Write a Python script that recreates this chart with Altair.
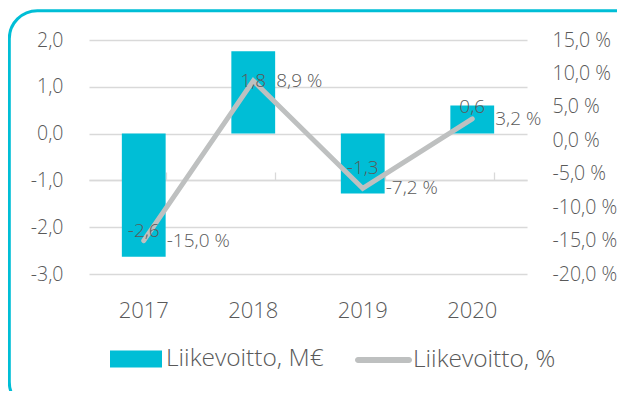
import altair as alt
import pandas as pd

# ---- data ----
years = ["2017", "2018", "2019", "2020"]
ebit_meur = [-2.63, 1.76, -1.28, 0.60]
ebit_pct = [-15.0, 8.9, -7.2, 3.2]
bar_series = "Liikevoitto, M€"
line_series = "Liikevoitto, %"
left_ticks = [-3, -2, -1, 0, 1, 2]
right_ticks = [-20, -15, -10, -5, 0, 5, 10, 15]

df = pd.DataFrame({"year": years, "meur": ebit_meur, "pct": ebit_pct,
                   "s1": bar_series, "s2": line_series})

FONT = "Open Sans"
TXT = "#595959"
CYAN = "#00BED6"
GRAY = "#BEC0C0"
GRID = "#D9D9D9"


def fmt(expr):
    return f"replace(replace(format({expr}, '.1f'), '.', ','), '\u2212', '-')"


xscale = alt.Scale(domain=years, paddingInner=0.6, paddingOuter=0.3)
yl = alt.Scale(domain=[-3, 2], nice=False, zero=False)
yr = alt.Scale(domain=[-20, 15], nice=False, zero=False)

base = alt.Chart(df).transform_calculate(
    mlab=fmt("datum.meur"), plab=fmt("datum.pct") + " + ' %'"
)

RECT_PATH = "M-1,-0.327H1V0.327H-1Z"
PILL_PATH = ("M-0.895,-0.105H0.895A0.105,0.105 0 0 1 0.895,0.105"
             "H-0.895A0.105,0.105 0 0 1 -0.895,-0.105Z")

AXIS_FS = 19.5
LEG_FS = 24.5
DATA_FS = 19

bars = base.mark_bar().encode(
    x=alt.X("year:N", scale=xscale, axis=alt.Axis(
        title=None, labelFont=FONT, labelFontSize=22, labelFontWeight=300,
        labelColor=TXT, domain=False, ticks=False, tickSize=0, labelPadding=26,
        labelAngle=0, grid=False)),
    y=alt.Y("meur:Q", scale=yl, axis=alt.Axis(
        title=None, orient="left", values=left_ticks, labelExpr=fmt("datum.value"),
        grid=True, gridColor=GRID, gridWidth=1.3, domain=False, ticks=False,
        tickSize=0, labelPadding=26, labelFont=FONT, labelFontSize=AXIS_FS,
        labelFontWeight=300, labelColor=TXT)),
    fill=alt.Fill("s1:N", scale=alt.Scale(range=[CYAN]), legend=alt.Legend(
        title=None, orient="none", legendX=21, legendY=293, symbolType=RECT_PATH,
        symbolSize=2704, symbolStrokeWidth=0, labelFont=FONT, labelFontSize=LEG_FS,
        labelFontWeight=300, labelColor=TXT, labelOffset=4, labelLimit=400)),
)

line = base.mark_line(strokeWidth=5, strokeCap="round").encode(
    x=alt.X("year:N", scale=xscale, axis=alt.Axis(
        title=None, labels=False, domain=True, domainColor=GRID, domainWidth=1.3,
        ticks=True, tickBand="extent", tickColor=GRID, tickWidth=1.3, tickSize=8,
        offset=-140, grid=False)),
    y=alt.Y("pct:Q", scale=yr, axis=alt.Axis(
        title=None, orient="right", values=right_ticks,
        labelExpr=fmt("datum.value") + " + ' %'", grid=False, domain=False,
        ticks=False, tickSize=0, labelPadding=25, labelFont=FONT, labelFontSize=AXIS_FS,
        labelFontWeight=300, labelColor=TXT)),
    stroke=alt.Stroke("s2:N", scale=alt.Scale(range=[GRAY]), legend=alt.Legend(
        title=None, orient="none", legendX=266, legendY=291.5, symbolType=PILL_PATH,
        symbolSize=3249, symbolStrokeWidth=0, symbolFillColor=GRAY,
        labelFont=FONT, labelFontSize=LEG_FS,
        labelFontWeight=300, labelColor=TXT, labelOffset=1, labelLimit=400)),
)


def bar_labels(cond, dy):
    return base.transform_filter(cond).mark_text(
        font=FONT, fontSize=DATA_FS, fontWeight=300, color=TXT, baseline="middle",
        align="center", dy=dy
    ).encode(
        x=alt.X("year:N", scale=xscale, axis=None),
        y=alt.Y("meur:Q", scale=yl, axis=None),
        text="mlab:N",
    )


lab_neg = bar_labels("datum.meur < 0", -26)
lab_pos = bar_labels("datum.meur > 1", 30)
lab_small = bar_labels("datum.meur > 0 && datum.meur <= 1", 1)

line_labels = base.mark_text(
    font=FONT, fontSize=DATA_FS, fontWeight=300, color=TXT, baseline="middle",
    align="left", dx=23
).encode(
    x=alt.X("year:N", scale=xscale, axis=None),
    y=alt.Y("pct:Q", scale=yr, axis=None),
    text="plab:N",
)

frame = alt.Chart(alt.Data(values=[{"a": 1}])).mark_rect(
    filled=False, stroke=CYAN, strokeWidth=3, cornerRadius=28
).encode(
    x=alt.value(-79.7), x2=alt.value(700), y=alt.value(-29.3), y2=alt.value(370)
)

chart = alt.layer(
    frame, bars, line, lab_neg, lab_pos, lab_small, line_labels
).resolve_scale(
    y="independent"
).resolve_axis(
    x="independent", y="independent"
).properties(
    width=438, height=234,
    padding={"left": 81, "top": 32, "right": 90, "bottom": 117},
    autosize=alt.AutoSizeParams(type="none"),
).configure_view(stroke=None)

chart.save("out.html", embed_options={"renderer": "svg", "actions": False})
